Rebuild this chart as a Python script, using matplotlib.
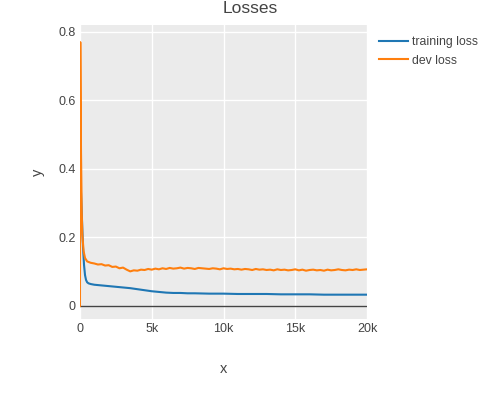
import matplotlib
matplotlib.use('Agg')
import matplotlib.pyplot as plt
from matplotlib.ticker import FuncFormatter

plt.rcParams['font.family'] = ['Liberation Sans', 'DejaVu Sans']

# training loss
train_steps = [0, 70, 140, 210, 280, 350, 420, 500, 600, 750, 1000, 1500, 2000, 2500,
               3000, 3500, 4000, 4500, 5000, 5500, 6000, 6500, 7000, 7500, 8000, 9000,
               10000, 11000, 12000, 13000, 14000, 15000, 16000, 17000, 18000, 19000, 20000]
train_loss = [0.40, 0.33, 0.25, 0.17, 0.12, 0.09, 0.076, 0.069, 0.066, 0.064, 0.062,
              0.060, 0.058, 0.056, 0.054, 0.052, 0.049, 0.046, 0.043, 0.041, 0.039,
              0.038, 0.038, 0.037, 0.037, 0.036, 0.036, 0.035, 0.035, 0.035, 0.034,
              0.034, 0.034, 0.033, 0.033, 0.033, 0.033]

# dev loss (noisy)
dev_steps = [0, 20, 70, 120, 160, 250, 350, 500, 750, 1000, 1250, 1500, 1750, 2000, 2250,
             2500, 2750, 3000, 3250, 3500, 3750, 4000, 4250, 4500, 4750, 5000, 5250,
             5500, 5750, 6000, 6250, 6500, 6750, 7000, 7250, 7500, 7750, 8000, 8250,
             8500, 8750, 9000, 9250, 9500, 9750, 10000, 10250, 10500, 10750, 11000,
             11250, 11500, 11750, 12000, 12250, 12500, 12750, 13000, 13250, 13500,
             13750, 14000, 14250, 14500, 14750, 15000, 15250, 15500, 15750, 16000,
             16250, 16500, 16750, 17000, 17250, 17500, 17750, 18000, 18250, 18500,
             18750, 19000, 19250, 19500, 19750, 20000]
dev_loss = [0.0, 0.77, 0.45, 0.28, 0.21, 0.16, 0.14, 0.13, 0.126, 0.124, 0.121, 0.122,
            0.118, 0.119, 0.114, 0.115, 0.110, 0.112, 0.106, 0.101, 0.104, 0.103,
            0.106, 0.105, 0.108, 0.106, 0.109, 0.107, 0.110, 0.108, 0.111, 0.109,
            0.110, 0.112, 0.109, 0.111, 0.110, 0.108, 0.111, 0.110, 0.109, 0.108,
            0.110, 0.109, 0.107, 0.110, 0.108, 0.109, 0.107, 0.108, 0.106, 0.108,
            0.107, 0.105, 0.108, 0.106, 0.107, 0.105, 0.106, 0.104, 0.107, 0.105,
            0.106, 0.104, 0.105, 0.107, 0.104, 0.106, 0.103, 0.105, 0.106, 0.104,
            0.105, 0.103, 0.106, 0.104, 0.105, 0.107, 0.105, 0.104, 0.106, 0.105,
            0.107, 0.105, 0.106, 0.107]

fig = plt.figure(figsize=(5, 4), dpi=100)
ax = fig.add_axes([0.16, 0.2025, 0.574, 0.735])
ax.set_facecolor('#ebebeb')

ax.plot(train_steps, train_loss, color='#1f77b4', lw=1.5, label='training loss', zorder=3)
ax.plot(dev_steps, dev_loss, color='#ff7f0e', lw=1.5, label='dev loss', zorder=3)
ax.axhline(0, color='#444444', lw=1, zorder=2)

ax.set_xlim(0, 20000)
ax.set_ylim(-0.038, 0.82)
ax.set_xticks([0, 5000, 10000, 15000, 20000])
ax.set_yticks([0, 0.2, 0.4, 0.6, 0.8])
ax.xaxis.set_major_formatter(FuncFormatter(lambda v, p: '0' if v == 0 else '%dk' % (v / 1000)))
ax.yaxis.set_major_formatter(FuncFormatter(lambda v, p: '0' if v == 0 else '%.1f' % v))
ax.grid(True, color='white', lw=1, zorder=1)
ax.set_axisbelow(True)
for s in ax.spines.values():
    s.set_visible(False)
ax.tick_params(length=0, labelsize=9, colors='#444444', pad=3)

ax.set_xlabel('x', fontsize=10.5, color='#444444', labelpad=19)
ax.set_ylabel('y', fontsize=10.5, color='#444444', labelpad=10)
fig.text(0.5, 0.978, 'Losses', ha='center', va='center', fontsize=12.5, color='#444444')

ax.legend(loc='upper left', bbox_to_anchor=(1.005, 1.0), frameon=False, fontsize=8.8,
          handlelength=2.3, handletextpad=0.4, labelspacing=0.55, labelcolor='#444444')

fig.savefig('out.png', dpi=100)
